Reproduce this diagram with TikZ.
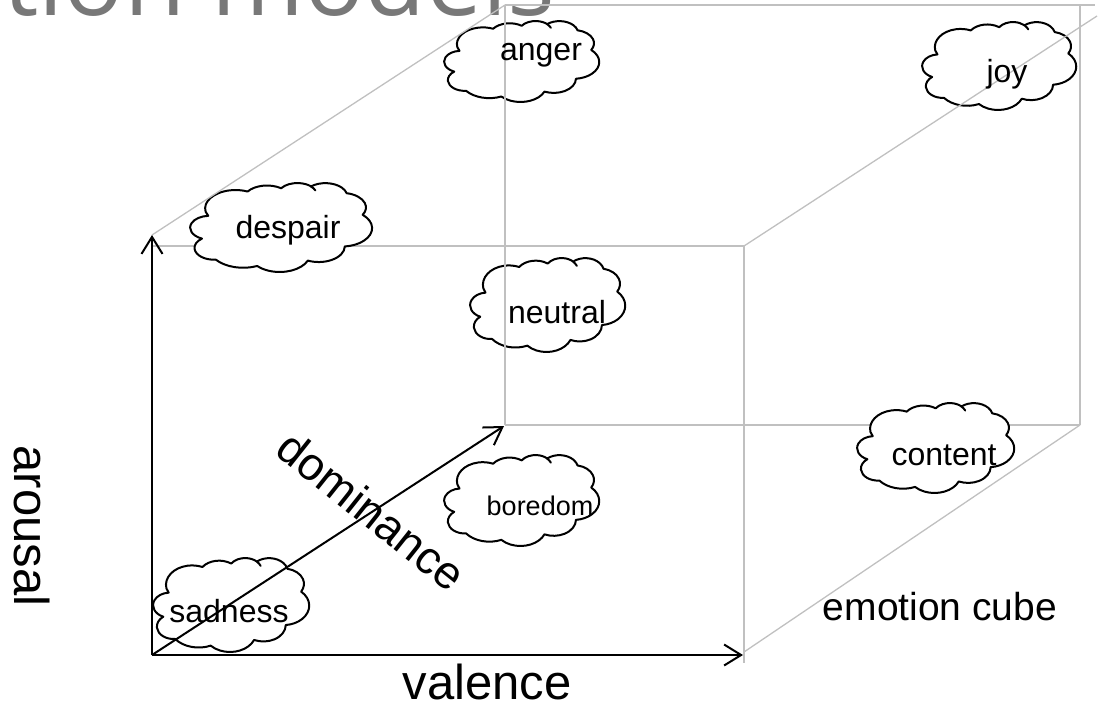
\documentclass[tikz,border=0pt]{standalone}
\usepackage{fontspec}
\setmainfont{Liberation Sans}
\newfontfamily\titlefont{Open Sans}
\usetikzlibrary{arrows.meta}
\definecolor{cubegray}{HTML}{C0C0C0}
\definecolor{titlegray}{HTML}{787878}
\tikzset{
  cubeedge/.style={draw=cubegray, line width=1.3pt},
  axis/.style={draw=black, line width=2pt, -{Straight Barb[length=17pt,width=21pt]}},
  cloudline/.style={draw=black, fill=white, line width=2pt, line join=round},
  cloudhook/.style={draw=black, line width=2pt, line cap=round},
  cloudlabel/.style={font=\fontsize{32}{38}\selectfont, inner sep=0pt, anchor=base},
  axislabel/.style={font=\fontsize{49}{58}\selectfont, inner sep=0pt},
}
% cloud outline fitted into the box (left, top) -- (right, bottom)
\newcommand\emocloud[4]{%
  \begin{scope}[shift={(#1,#2)}, xscale={(#3-#1)/0.94}, yscale={(#4-#2)/1.03}]
    \path[cloudline] (0.0803,0.3326)
      arc[start angle=-190.49, delta angle=123.78, x radius=0.1563, y radius=0.2127]
      arc[start angle=-144.10, delta angle=89.95,  x radius=0.1235, y radius=0.1682]
      arc[start angle=-145.81, delta angle=99.72,  x radius=0.1010, y radius=0.1376]
      coordinate (hook)
      arc[start angle=-130.99, delta angle=117.24, x radius=0.1124, y radius=0.1527]
      arc[start angle=-78.71,  delta angle=109.03, x radius=0.1235, y radius=0.1684]
      arc[start angle=-46.27,  delta angle=130.27, x radius=0.1568, y radius=0.2134]
      arc[start angle=0.63,    delta angle=114.03, x radius=0.1339, y radius=0.1821]
      arc[start angle=22.45,   delta angle=115.17, x radius=0.1563, y radius=0.2133]
      arc[start angle=66.24,   delta angle=75.71,  x radius=0.1787, y radius=0.2441]
      arc[start angle=-274.94, delta angle=146.74, x radius=0.1009, y radius=0.1370]
      arc[start angle=-246.83, delta angle=152.52, x radius=0.1006, y radius=0.1376]
      -- cycle;
    % small curl where the two upper lobes meet
    \draw[cloudhook] (hook)
      arc[start angle=-46.09, delta angle=24, x radius=0.1010, y radius=0.1376];
  \end{scope}}
\begin{document}
\begin{tikzpicture}[x=1pt, y=-1pt]
\useasboundingbox (0,0) rectangle (1099,704);

% title running off the top edge
\node[anchor=base west, text=titlegray, inner sep=0pt,
      font=\titlefont\fontsize{100}{120}\selectfont] (title) at (3,16) {tion models};

% cube corners
\coordinate (o)   at (152,655);
\coordinate (ftl) at (152,246);
\coordinate (ftr) at (744,246);
\coordinate (fbx) at (744,663);
\coordinate (btl) at (505,5);
\coordinate (btr) at (1080,5);
\coordinate (btx) at (1095,5);
\coordinate (bbl) at (505,425);
\coordinate (bbr) at (1080,425);
\coordinate (ytop) at (152,235);
\coordinate (xend) at (743,655);
\coordinate (zend) at (504,426);
\coordinate (trd) at (1097,16);
\coordinate (brd) at (744,652);

% edges lying behind the clouds
\draw[cubeedge] (ftl) -- (ftr);
\draw[cubeedge] (bbl) -- (bbr);

% emotion clouds
\emocloud{190}{183}{373}{272}
\emocloud{444}{21}{600}{102}
\emocloud{922}{22}{1077}{110}
\emocloud{470}{258}{626}{352}
\emocloud{857}{403}{1015}{493}
\emocloud{444}{455}{600}{546}
\emocloud{153}{558}{310}{652}

% remaining cube edges
\draw[cubeedge] (ftr) -- (fbx);
\draw[cubeedge] (btl) -- (btx);
\draw[cubeedge] (btl) -- (bbl);
\draw[cubeedge] (btr) -- (bbr);
\draw[cubeedge] (ytop) -- (btl);
\draw[cubeedge] (ftr) -- (trd);
\draw[cubeedge] (brd) -- (bbr);

% axes
\draw[axis] (o) -- (ytop);
\draw[axis] (o) -- (xend);
\draw[axis] (o) -- (zend);

% cloud labels
\node[cloudlabel] (despair) at (288,238) {despair};
\node[cloudlabel] (anger)   at (541,60)  {anger};
\node[cloudlabel] (joy)     at (1007,82) {joy};
\node[cloudlabel] (neutral) at (557,323) {neutral};
\node[cloudlabel] (content) at (944,465) {content};
\node[cloudlabel, font=\fontsize{27}{32}\selectfont] (boredom) at (540,515) {boredom};
\node[cloudlabel] (sadness) at (229,622) {sadness};

% axis labels
\node[axislabel, anchor=base] (valence) at (487,699) {valence};
\node[axislabel, rotate=-90] (arousal) at (32,526) {arousal};
\node[font=\fontsize{46}{55}\selectfont, inner sep=0pt, rotate=-38.5] (dominance) at (372,511) {dominance};
\node[font=\fontsize{39}{47}\selectfont, inner sep=0pt, anchor=base] (cube) at (940,620) {emotion cube};
\end{tikzpicture}
\end{document}
